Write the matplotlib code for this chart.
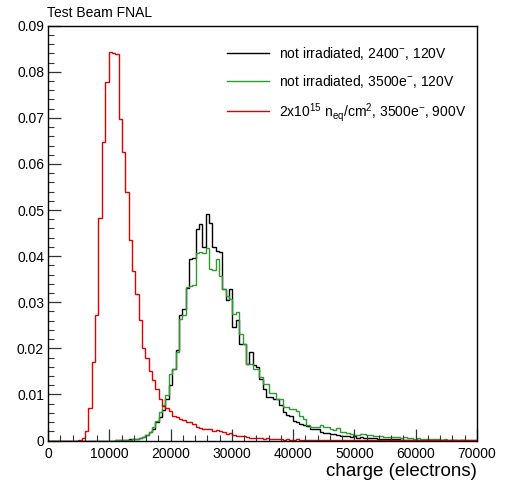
import numpy as np
import matplotlib
matplotlib.use("Agg")
import matplotlib.pyplot as plt
from matplotlib.ticker import MultipleLocator, FuncFormatter

plt.rcParams["font.family"] = ["Liberation Sans", "DejaVu Sans"]
plt.rcParams["mathtext.fontset"] = "custom"
plt.rcParams["mathtext.rm"] = "Liberation Sans"
plt.rcParams["mathtext.default"] = "regular"

# --------------------------------------------------
# Data: 128 bins from 0 to 70000 electrons
# --------------------------------------------------

x_min = 0
x_max = 70000
n_bins = 128

# not irradiated, 2400 threshold, 120V
black_counts = [0.0] * 20 + [
    0.0001, 0.0001, 0.0002, 0.0002, 0.0003, 0.0003, 0.0004, 0.0005,
    0.0007, 0.0013, 0.0018, 0.0025, 0.0040, 0.0051, 0.0067, 0.0090, 0.0120, 0.0156, 0.0196,
    0.0272, 0.0285, 0.0330, 0.0393, 0.0395, 0.0458, 0.0470, 0.0420, 0.0491, 0.0471,
    0.0420, 0.0412, 0.0408, 0.0328, 0.0304, 0.0328, 0.0246, 0.0262, 0.0210, 0.0210,
    0.0167, 0.0192, 0.0163, 0.0160, 0.0134, 0.0112, 0.0094, 0.0094, 0.0090, 0.0090,
    0.0076, 0.0062, 0.0056, 0.0054, 0.0042, 0.0040, 0.0036, 0.0034, 0.0032, 0.0026,
    0.0025, 0.0024, 0.0018, 0.0016, 0.0016, 0.0015, 0.0014, 0.0013, 0.0010, 0.0009,
    0.0010, 0.0008, 0.0009, 0.0006, 0.0007, 0.0006, 0.0005, 0.0006, 0.0005, 0.0004,
    0.0004, 0.0004, 0.0003, 0.0004, 0.0003, 0.0003, 0.0002,
    0.0002, 0.0002, 0.0001, 0.0002, 0.0001, 0.0001, 0.0002, 0.0001, 0.0001, 0.0001,
    0.0001, 0.0001, 0.0001, 0.0, 0.0001, 0.0001, 0.0, 0.0001, 0.0, 0.0, 0.0, 0.0,
]

# not irradiated, 3500e threshold, 120V
green_counts = [0.0] * 20 + [
    0.0001, 0.0001, 0.0001, 0.0002, 0.0002, 0.0003, 0.0004, 0.0005,
    0.0007, 0.0011, 0.0018, 0.0030, 0.0043, 0.0062, 0.0076, 0.0098, 0.0145, 0.0156, 0.0191,
    0.0264, 0.0272, 0.0332, 0.0335, 0.0337, 0.0406, 0.0408, 0.0407, 0.0417, 0.0373,
    0.0371, 0.0393, 0.0357, 0.0328, 0.0313, 0.0306, 0.0275, 0.0279, 0.0232, 0.0210,
    0.0167, 0.0167, 0.0156, 0.0156, 0.0138, 0.0122, 0.0122, 0.0103, 0.0103, 0.0090,
    0.0090, 0.0072, 0.0072, 0.0069, 0.0069, 0.0065, 0.0054, 0.0047, 0.0033, 0.0029,
    0.0029, 0.0029, 0.0033, 0.0029, 0.0029, 0.0025, 0.0022, 0.0027, 0.0018, 0.0018,
    0.0016, 0.0014, 0.0011, 0.0011, 0.0014, 0.0014, 0.0012, 0.0011, 0.0010, 0.0009,
    0.0009, 0.0008, 0.0007, 0.0007, 0.0008, 0.0007, 0.0006, 0.0007, 0.0006,
    0.0005, 0.0004, 0.0005, 0.0004, 0.0004, 0.0003, 0.0004, 0.0003, 0.0003, 0.0002,
    0.0003, 0.0002, 0.0002, 0.0002, 0.0001, 0.0002, 0.0001, 0.0001, 0.0001, 0.0001,
]

# 2e15 neq/cm2, 3500e threshold, 900V
red_counts = [0.0] * 9 + [
    0.0002, 0.0006, 0.0020, 0.0070, 0.0170, 0.0272, 0.0482, 0.0647, 0.0778, 0.0842,
    0.0841, 0.0838, 0.0698, 0.0625, 0.0540, 0.0435, 0.0368, 0.0317, 0.0262, 0.0200,
    0.0180, 0.0150, 0.0132, 0.0112, 0.0090, 0.0074, 0.0070, 0.0065, 0.0054, 0.0050,
    0.0047, 0.0045, 0.0040, 0.0040, 0.0035, 0.0030, 0.0028, 0.0026, 0.0024, 0.0026,
    0.0020, 0.0022, 0.0020, 0.0018, 0.0015, 0.0016, 0.0013, 0.0009, 0.0010, 0.0009,
    0.0008, 0.0006, 0.0006, 0.0005, 0.0006, 0.0004, 0.0005, 0.0004, 0.0004, 0.0003,
    0.0003, 0.0002, 0.0003, 0.0002, 0.0002, 0.0003, 0.0002, 0.0002, 0.0002, 0.0001,
    0.0002, 0.0002,
] + [0.0001] * 47

labels = [
    r"not irradiated, 2400$^{-}$, 120V",
    r"not irradiated, 3500e$^{-}$, 120V",
    r"2x10$^{15}$ n$_{eq}$/cm$^{2}$, 3500e$^{-}$, 900V",
]
colors = ["black", "#2f9a2f", "#e00000"]

edges = np.linspace(x_min, x_max, n_bins + 1)

# --------------------------------------------------
# Plot
# --------------------------------------------------

fig = plt.figure(figsize=(5.05, 4.86), dpi=100)
ax = fig.add_axes([48.2 / 505, 1 - 440.5 / 486, (477 - 48.2) / 505, (440.5 - 25.7) / 486])

for counts, color, label in zip([black_counts, green_counts, red_counts], colors, labels):
    ax.stairs(counts, edges, color=color, lw=1.0, label=label, baseline=None)

ax.set_xlim(x_min, x_max)
ax.set_ylim(0, 0.09)

ax.xaxis.set_major_locator(MultipleLocator(10000))
ax.xaxis.set_minor_locator(MultipleLocator(2000))
ax.yaxis.set_major_locator(MultipleLocator(0.01))
ax.yaxis.set_minor_locator(MultipleLocator(0.002))
ax.yaxis.set_major_formatter(FuncFormatter(lambda v, p: "0" if abs(v) < 1e-9 else f"{v:.2f}"))

ax.tick_params(which="both", direction="in", top=False, right=False, labelsize=10, color="#333333")
ax.tick_params(axis="x", which="major", length=9, width=0.9, pad=5)
ax.tick_params(axis="y", which="major", length=9, width=0.9, pad=3)
ax.tick_params(which="minor", length=4.5, width=0.8)

for spine in ax.spines.values():
    spine.set_linewidth(1.0)

ax.set_xlabel("charge (electrons)", fontsize=13.5, loc="right", labelpad=1)

fig.text(47 / 505, 1 - 17 / 486, "Test Beam FNAL", fontsize=10, va="baseline", ha="left")

leg = ax.legend(
    loc="upper left",
    bbox_to_anchor=((227 - 48.2) / 428.8, 1 - (45 - 25.7) / 414.8),
    frameon=False,
    fontsize=10,
    handlelength=3.0,
    handletextpad=0.75,
    labelspacing=0.78,
    borderaxespad=0,
    borderpad=0,
)
for line in leg.get_lines():
    line.set_linewidth(1.0)

fig.savefig("out.png", dpi=100)
